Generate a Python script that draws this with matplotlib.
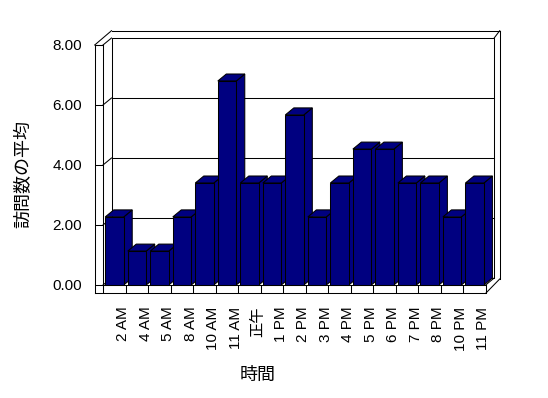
import matplotlib
matplotlib.use("Agg")
import matplotlib.pyplot as plt
from matplotlib.patches import Polygon, Rectangle
import matplotlib.transforms as mtransforms

plt.rcParams['font.family'] = ['Liberation Sans', 'Noto Sans CJK JP', 'DejaVu Sans']

# data
hours = ["2 AM", "4 AM", "5 AM", "8 AM", "10 AM", "11 AM", "正午", "1 PM", "2 PM",
         "3 PM", "4 PM", "5 PM", "6 PM", "7 PM", "8 PM", "10 PM", "11 PM"]
avg_visits = [2.27, 1.13, 1.13, 2.27, 3.4, 6.8, 3.4, 3.4, 5.67,
              2.27, 3.4, 4.53, 4.53, 3.4, 3.4, 2.27, 3.4]
y_ticks = [0, 2, 4, 6, 8]
x_title = "時間"
y_title = "訪問数の平均"

W, H = 548, 398
fig = plt.figure(figsize=(W / 100, H / 100), dpi=100)
# front plane of the 3d box: x 103..485.7 px, y 285..45 px
ax = fig.add_axes([103 / W, (H - 285) / H, 382.7 / W, 240 / H])
n = len(hours)
ax.set_xlim(0, n)
ax.set_ylim(0, 8)

px_x = 382.7 / n   # pixels per category
px_y = 30.0        # pixels per unit
dx, dy = 8.5 / px_x, 7 / px_y        # depth of floor / bars
tx, ty = 5.5 / px_x, 7.3 / px_y      # wall thickness
fz = 8.3 / px_y                      # floor slab thickness
lx = 8.3 / px_x                      # left slab thickness

navy = "#000080"
lw = 0.75
kw = dict(color="black", lw=lw, clip_on=False, solid_capstyle="projecting")

# back wall
ax.plot([dx, n + dx, n + dx, dx, dx], [dy, dy, 8 + dy, 8 + dy, dy], zorder=1, **kw)
for v in y_ticks[1:-1]:
    ax.plot([dx, n + dx], [v + dy, v + dy], zorder=1, **kw)
for v in y_ticks:
    ax.plot([0, dx], [v, v + dy], zorder=1, **kw)
# wall thickness (top / right)
ax.plot([dx, n + dx + tx], [8 + dy + ty, 8 + dy + ty], zorder=1, **kw)
ax.plot([n + dx, n + dx + tx], [8 + dy, 8 + dy + ty], zorder=1, **kw)
ax.plot([n + dx + tx, n + dx + tx], [8 + dy + ty, -fz + dy + ty], zorder=1, **kw)
# left slab
ax.plot([-lx, -lx], [-fz, 8], zorder=1, **kw)
ax.plot([-lx, 0], [8, 8], zorder=1, **kw)
ax.plot([-lx, dx], [8, 8 + dy + ty], zorder=1, **kw)
ax.plot([0, 0], [0, 8], zorder=1, **kw)
# floor
ax.plot([-lx, n], [-fz, -fz], zorder=1, **kw)
ax.plot([0, n], [0, 0], zorder=1, **kw)
ax.vlines(range(n + 1), -fz, 0, colors="black", lw=lw, clip_on=False, zorder=1)
ax.plot([n, n + dx], [0, dy], zorder=1, **kw)
ax.plot([n, n + dx + tx], [-fz, -fz + dy + ty], zorder=1, **kw)

# bars
b0, bw = 0.1, 0.82
for i, v in enumerate(avg_visits):
    z = 3 + i
    x0, x1 = i + b0, i + b0 + bw
    side = Polygon([(x1, 0), (x1 + dx, dy), (x1 + dx, v + dy), (x1, v)],
                   closed=True, fc=navy, ec="black", lw=lw, clip_on=False, zorder=z)
    top = Polygon([(x0, v), (x1, v), (x1 + dx, v + dy), (x0 + dx, v + dy)],
                  closed=True, fc=navy, ec="black", lw=lw, clip_on=False, zorder=z)
    front = Rectangle((x0, 0), bw, v, fc=navy, ec="black", lw=lw, clip_on=False, zorder=z)
    ax.add_patch(side)
    ax.add_patch(top)
    ax.add_patch(front)

for s in ["top", "right", "left", "bottom"]:
    ax.spines[s].set_visible(False)

ax.set_yticks(y_ticks)
ax.set_yticklabels([f"{v:.2f}" for v in y_ticks])
ax.tick_params(axis="y", direction="out", length=6, width=lw, pad=9, labelsize=11)

ax.set_xticks([i + 0.5 for i in range(n)])
ax.set_xticklabels(hours, rotation=90)
ax.tick_params(axis="x", length=0, pad=15.6, labelsize=11)
shift = mtransforms.ScaledTranslation(9 / 100, 0, fig.dpi_scale_trans)
for lab in ax.get_xticklabels():
    lab.set_transform(lab.get_transform() + shift)

ax.set_xlabel(x_title, fontsize=13, va="center")
ax.xaxis.set_label_coords((258 - 103) / 382.7, (285 - 375) / 240)
ax.set_ylabel(y_title, fontsize=13, va="center")
ax.yaxis.set_label_coords((24 - 103) / 382.7, (285 - 174) / 240)

fig.savefig("out.png", dpi=100)
